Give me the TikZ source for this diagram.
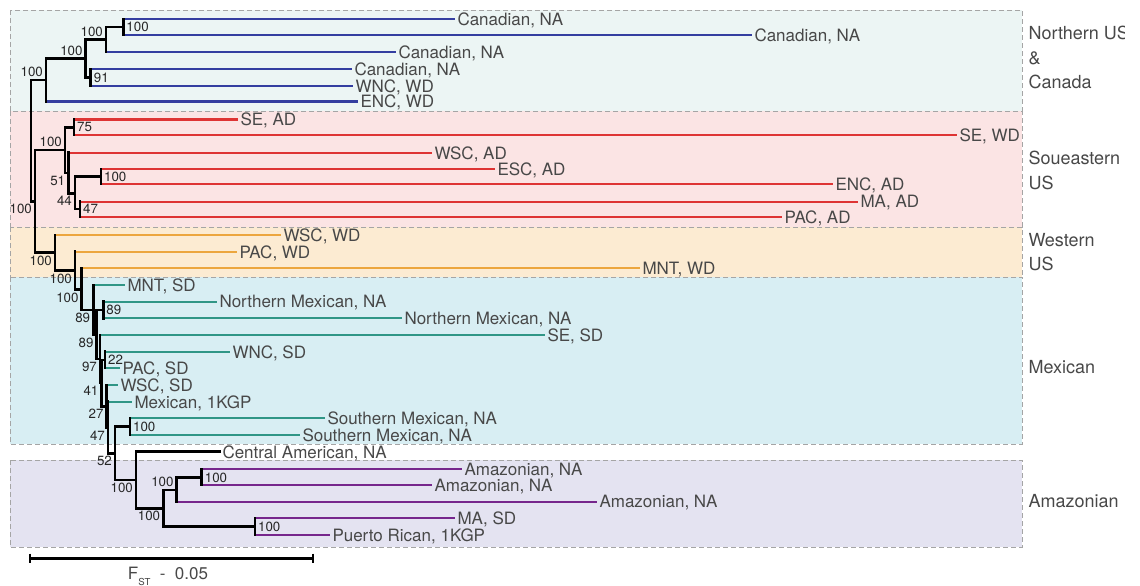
\documentclass[tikz,border=0pt]{standalone}
\usepackage{fontspec}
\setmainfont{TeX Gyre Heros}
\usetikzlibrary{positioning}

\definecolor{nusblue}{RGB}{52,62,160}
\definecolor{sered}{RGB}{222,52,52}
\definecolor{worange}{RGB}{236,166,62}
\definecolor{mexteal}{RGB}{48,150,134}
\definecolor{amzpurple}{RGB}{118,38,140}
\definecolor{nusfill}{RGB}{236,245,244}
\definecolor{sefill}{RGB}{251,228,228}
\definecolor{wfill}{RGB}{252,235,210}
\definecolor{mexfill}{RGB}{216,238,243}
\definecolor{amzfill}{RGB}{228,227,241}
\definecolor{boxgray}{RGB}{165,165,165}
\definecolor{txtgray}{RGB}{72,72,72}

\tikzset{every picture/.style={line width=0.75pt}}
\tikzset{
  grpbox/.style={draw=boxgray, line width=0.75pt, dash pattern={on 3.75pt off 2.25pt}},
  br/.style={draw=black, line width=1.9pt, line cap=rect},
  lf/.style={line width=1.7pt},
  tip/.style={anchor=west, inner sep=1.5pt, text depth=0pt, text=txtgray, font=\fontsize{12.75}{15}\selectfont},
  bs/.style={inner sep=2pt, text depth=0pt, text=black!85, font=\fontsize{10}{11}\selectfont},
  grp/.style={anchor=west, align=left, inner sep=0pt, text=txtgray, font=\fontsize{13.5}{18.4}\selectfont},
}

\begin{document}
\begin{tikzpicture}[x=0.75pt,y=0.75pt,yscale=-1,xscale=1]
\useasboundingbox (0,0) rectangle (1140,586);

%Group boxes
\draw[grpbox, fill=nusfill] (10,10) rectangle (1022,111);
\draw[grpbox, fill=sefill] (10,111) rectangle (1022,227);
\draw[grpbox, fill=wfill] (10,227) rectangle (1022,277);
\draw[grpbox, fill=mexfill] (10,277) rectangle (1022,444);
\draw[grpbox, fill=amzfill] (10,460) rectangle (1022,547);

%Group names
\begin{scope}
\clip (0,0) rectangle (1124,586);
\node[grp] (gnus) at (1028,57.5) {Northern US\\\&\\Canada};
\node[grp] (gse) at (1028,170.5) {Soueastern\\US};
\node[grp] (gw) at (1028,252) {Western\\US};
\node[grp] (gmex) at (1028,367) {Mexican};
\node[grp] (gamz) at (1028,501) {Amazonian};
\end{scope}

%Internal nodes
\coordinate (nroot) at (31,140.5);
\coordinate (nnus) at (46,80);
\coordinate (nnus2) at (85.7,58.6);
\coordinate (nnus3) at (106,39.5);
\coordinate (ccan) at (123.3,27.2);
\coordinate (cwnc) at (90.7,77.7);
\coordinate (nb) at (35,201.3);
\coordinate (nse1) at (65,150);
\coordinate (cse) at (74,127.3);
\coordinate (nse2) at (68.3,173);
\coordinate (nse3) at (75,193.3);
\coordinate (cenc) at (101,176.7);
\coordinate (cma) at (80,209.2);
\coordinate (nw1) at (55,252.7);
\coordinate (nw2) at (75,270.4);
\coordinate (nw3) at (81.7,289.5);
\coordinate (nm0) at (93.3,310);
\coordinate (cnmex) at (103.3,310);
\coordinate (nm1) at (96.7,334.5);
\coordinate (nm2) at (100,359);
\coordinate (nm3) at (101.5,383);
\coordinate (cpac) at (105,360);
\coordinate (nm4) at (106.7,406.3);
\coordinate (nm5) at (108,427.5);
\coordinate (np) at (115,453.3);
\coordinate (csmex) at (130,426.7);
\coordinate (nq) at (136,480);
\coordinate (nr) at (163.3,508.3);
\coordinate (nra) at (176.7,490);
\coordinate (camz) at (201.7,477.3);
\coordinate (cpr) at (255,526.7);

% Tip labels
\node[tip] (t1) at (455,19.3) {Canadian, NA};
\node[tip] (t2) at (752,35) {Canadian, NA};
\node[tip] (t3) at (396,51.7) {Canadian, NA};
\node[tip] (t4) at (352,69.3) {Canadian, NA};
\node[tip] (t5) at (353,86) {WNC, WD};
\node[tip] (t6) at (358,101.5) {ENC, WD};
\node[tip] (t7) at (238,119.5) {SE, AD};
\node[tip] (t8) at (957,135) {SE, WD};
\node[tip] (t9) at (432,152.7) {WSC, AD};
\node[tip] (t10) at (495,169.3) {ESC, AD};
\node[tip] (t11) at (833,184) {ENC, AD};
\node[tip] (t12) at (858,201.7) {MA, AD};
\node[tip] (t13) at (782,216.7) {PAC, AD};
\node[tip] (t14) at (281,235) {WSC, WD};
\node[tip] (t15) at (237,251.7) {PAC, WD};
\node[tip] (t16) at (640,268.3) {MNT, WD};
\node[tip] (t17) at (125,285) {MNT, SD};
\node[tip] (t18) at (217,301.7) {Northern Mexican, NA};
\node[tip] (t19) at (402,318.3) {Northern Mexican, NA};
\node[tip] (t20) at (545,335) {SE, SD};
\node[tip] (t21) at (230,351.7) {WNC, SD};
\node[tip] (t22) at (120,368) {PAC, SD};
\node[tip] (t23) at (118,385) {WSC, SD};
\node[tip] (t24) at (132,401.7) {Mexican, 1KGP};
\node[tip] (t25) at (325,418.3) {Southern Mexican, NA};
\node[tip] (t26) at (300,435) {Southern Mexican, NA};
\node[tip] (t27) at (220,451.7) {Central American, NA};
\node[tip] (t28) at (462,469) {Amazonian, NA};
\node[tip] (t29) at (432,485) {Amazonian, NA};
\node[tip] (t30) at (597,501.7) {Amazonian, NA};
\node[tip] (t31) at (455,518.3) {MA, SD};
\node[tip] (t32) at (330,535) {Puerto Rican, 1KGP};

%Leaf branches
\draw[lf, nusblue] (ccan |- t1.west) -- (t1.west);
\draw[lf, nusblue] (ccan |- t2.west) -- (t2.west);
\draw[lf, nusblue] (nnus3 |- t3.west) -- (t3.west);
\draw[lf, nusblue] (cwnc |- t4.west) -- (t4.west);
\draw[lf, nusblue] (cwnc |- t5.west) -- (t5.west);
\draw[lf, nusblue] (nnus |- t6.west) -- (t6.west);
\draw[lf, sered] (cse |- t7.west) -- (t7.west);
\draw[lf, sered] (cse |- t8.west) -- (t8.west);
\draw[lf, sered] (nse2 |- t9.west) -- (t9.west);
\draw[lf, sered] (cenc |- t10.west) -- (t10.west);
\draw[lf, sered] (cenc |- t11.west) -- (t11.west);
\draw[lf, sered] (cma |- t12.west) -- (t12.west);
\draw[lf, sered] (cma |- t13.west) -- (t13.west);
\draw[lf, worange] (nw1 |- t14.west) -- (t14.west);
\draw[lf, worange] (nw2 |- t15.west) -- (t15.west);
\draw[lf, worange] (nw3 |- t16.west) -- (t16.west);
\draw[lf, mexteal] (nm0 |- t17.west) -- (t17.west);
\draw[lf, mexteal] (cnmex |- t18.west) -- (t18.west);
\draw[lf, mexteal] (cnmex |- t19.west) -- (t19.west);
\draw[lf, mexteal] (nm2 |- t20.west) -- (t20.west);
\draw[lf, mexteal] (cpac |- t21.west) -- (t21.west);
\draw[lf, mexteal] (cpac |- t22.west) -- (t22.west);
\draw[lf, mexteal] (nm4 |- t23.west) -- (t23.west);
\draw[lf, mexteal] (nm5 |- t24.west) -- (t24.west);
\draw[lf, mexteal] (csmex |- t25.west) -- (t25.west);
\draw[lf, mexteal] (csmex |- t26.west) -- (t26.west);
\draw[lf, amzpurple] (camz |- t28.west) -- (t28.west);
\draw[lf, amzpurple] (camz |- t29.west) -- (t29.west);
\draw[lf, amzpurple] (nra |- t30.west) -- (t30.west);
\draw[lf, amzpurple] (cpr |- t31.west) -- (t31.west);
\draw[lf, amzpurple] (cpr |- t32.west) -- (t32.west);

%Internal branches
\draw[br] (nnus) -| (nroot) |- (nb);
\draw[br] (nnus2) -| (nnus) -- (nnus |- t6.west);
\draw[br] (nnus3) -| (nnus2) |- (cwnc);
\draw[br] (ccan) -| (nnus3) -- (nnus3 |- t3.west);
\draw[br] (ccan |- t1.west) -- (ccan |- t2.west);
\draw[br] (cwnc |- t4.west) -- (cwnc |- t5.west);
\draw[br] (nse1) -| (nb) |- (nw1);
\draw[br] (cse) -| (nse1) |- (nse2);
\draw[br] (cse |- t7.west) -- (cse |- t8.west);
\draw[br] (nse2 |- t9.west) -- (nse2) |- (nse3);
\draw[br] (cenc) -| (nse3) |- (cma);
\draw[br] (cenc |- t10.west) -- (cenc |- t11.west);
\draw[br] (cma |- t12.west) -- (cma |- t13.west);
\draw[br] (nw1 |- t14.west) -- (nw1) |- (nw2);
\draw[br] (nw2 |- t15.west) -- (nw2) |- (nw3);
\draw[br] (nw3 |- t16.west) -- (nw3) |- (nm0);
\draw[br] (nm0 |- t17.west) -- (nm0) |- (nm1);
\draw[br] (cnmex) -| (nm1) |- (nm2);
\draw[br] (cnmex |- t18.west) -- (cnmex |- t19.west);
\draw[br] (nm2 |- t20.west) -- (nm2) |- (nm3);
\draw[br] (cpac) -| (nm3) |- (nm4);
\draw[br] (cpac |- t21.west) -- (cpac |- t22.west);
\draw[br] (nm4 |- t23.west) -- (nm4) |- (nm5);
\draw[br] (nm5 |- t24.west) -- (nm5) |- (np);
\draw[br] (csmex) -| (np) |- (nq);
\draw[br] (csmex |- t25.west) -- (csmex |- t26.west);
\draw[br] (t27.west) -| (nq) |- (nr);
\draw[br] (nra) -| (nr) |- (cpr);
\draw[br] (camz) -| (nra) -- (nra |- t30.west);
\draw[br] (camz |- t28.west) -- (camz |- t29.west);
\draw[br] (cpr |- t31.west) -- (cpr |- t32.west);

%Bootstrap values
\node[bs, anchor=south east] (bnus) at (nnus) {100};
\node[bs, anchor=south east] (bnus2) at (nnus2) {100};
\node[bs, anchor=south east] (bnus3) at (nnus3) {100};
\node[bs, anchor=west] (bccan) at (ccan) {100};
\node[bs, anchor=west] (bcwnc) at (cwnc) {91};
\node[bs, anchor=north east] (bnb) at (nb) {100};
\node[bs, anchor=south east] (bnse1) at (nse1) {100};
\node[bs, anchor=west] (bcse) at (cse) {75};
\node[bs, anchor=north east] (bnse2) at (nse2) {51};
\node[bs, anchor=north east] (bnse3) at (nse3) {44};
\node[bs, anchor=west] (bcenc) at (cenc) {100};
\node[bs, anchor=west] (bcma) at (cma) {47};
\node[bs, anchor=north east] (bnw1) at (nw1) {100};
\node[bs, anchor=north east] (bnw2) at (nw2) {100};
\node[bs, anchor=north east] (bnw3) at (nw3) {100};
\node[bs, anchor=north east] (bnm0) at (nm0) {89};
\node[bs, anchor=west] (bcnmex) at (cnmex) {89};
\node[bs, anchor=north east] (bnm1) at (nm1) {89};
\node[bs, anchor=north east] (bnm2) at (nm2) {97};
\node[bs, anchor=west] (bcpac) at (cpac) {22};
\node[bs, anchor=north east] (bnm3) at (nm3) {41};
\node[bs, anchor=north east] (bnm4) at (nm4) {27};
\node[bs, anchor=north east] (bnm5) at (nm5) {47};
\node[bs, anchor=west] (bcsmex) at (csmex) {100};
\node[bs, anchor=north east] (bnp) at (np) {52};
\node[bs, anchor=north east] (bnq) at (nq) {100};
\node[bs, anchor=north east] (bnr) at (nr) {100};
\node[bs, anchor=south east] (bnra) at (nra) {100};
\node[bs, anchor=west] (bcamz) at (camz) {100};
\node[bs, anchor=west] (bcpr) at (cpr) {100};

%Scale bar
\coordinate (sbl) at (30,558.3);
\coordinate (sbr) at (313,558.3);
\draw[br, line cap=butt] (sbl) -- (sbr);
\draw[br, line cap=butt] ([yshift=-3.5pt]sbl) -- ([yshift=3.5pt]sbl);
\draw[br, line cap=butt] ([yshift=-3.5pt]sbr) -- ([yshift=3.5pt]sbr);
\node[tip, anchor=base] (sblab) at (168,579) {F\raisebox{-4.5pt}{\fontsize{7.2}{8}\selectfont ST}\ \ -\ \ 0.05};

\end{tikzpicture}
\end{document}
